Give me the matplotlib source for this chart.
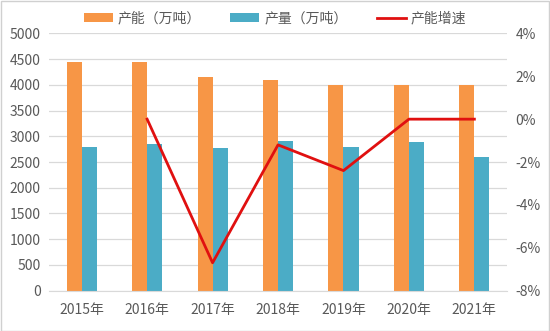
import matplotlib
matplotlib.use("Agg")
import matplotlib.pyplot as plt
import numpy as np
from matplotlib.patches import Rectangle

plt.rcParams['font.family'] = ['Noto Sans CJK SC', 'DejaVu Sans']

years = ['2015年', '2016年', '2017年', '2018年', '2019年', '2020年', '2021年']
capacity = [4450, 4450, 4150, 4100, 4000, 4000, 4000]      # 产能（万吨）
output = [2800, 2850, 2770, 2900, 2790, 2890, 2600]        # 产量（万吨）
growth = [np.nan, 0.0, -6.7, -1.2, -2.4, 0.0, 0.0]          # 产能增速（%）

c_cap = '#F79646'
c_out = '#4BACC6'
c_line = '#E01010'
c_text = '#595959'
c_grid = '#D9D9D9'
fs = 10

fig = plt.figure(figsize=(5.5, 3.31), dpi=100)
fig.patches.append(Rectangle((0.001, 0.001), 0.997, 0.997, transform=fig.transFigure,
                             fill=False, edgecolor='#D0D0D0', linewidth=1))
ax = fig.add_axes([0.089, 0.122, 0.833, 0.777])
ax2 = ax.twinx()

x = np.arange(len(years))
w = 0.23
b1 = ax.bar(x - w / 2, capacity, w, color=c_cap, label='产能（万吨）', zorder=2)
b2 = ax.bar(x + w / 2, output, w, color=c_out, label='产量（万吨）', zorder=2)
ln, = ax2.plot(x, growth, color=c_line, linewidth=2.0, label='产能增速', zorder=3)

ax.set_xlim(-0.5, len(years) - 0.5)
ax.set_ylim(0, 5000)
ax.set_yticks(np.arange(0, 5001, 500))
ax.yaxis.grid(True, color=c_grid, linewidth=0.9, zorder=0)
ax.set_axisbelow(True)
ax.set_xticks(x)
ax.set_xticklabels(years)

ax2.set_ylim(-8, 4)
ax2.set_yticks(np.arange(-8, 4.1, 2))
ax2.set_yticklabels([f'{int(v)}%' for v in np.arange(-8, 4.1, 2)])

for a in (ax, ax2):
    for s in a.spines.values():
        s.set_visible(False)
    a.tick_params(length=0, colors=c_text, labelsize=fs)
ax.tick_params(axis='x', pad=9)
ax.tick_params(axis='y', pad=6)
ax2.tick_params(axis='y', pad=6)
ax.spines['bottom'].set_visible(True)
ax.spines['bottom'].set_color(c_grid)

fig.legend(handles=[b1, b2, ln], loc='center', bbox_to_anchor=(0.50, 0.945), ncol=3,
           frameon=False, fontsize=fs, labelcolor=c_text, handlelength=2.1,
           handleheight=0.6, columnspacing=2.1, handletextpad=0.35)

fig.savefig('out.png', dpi=100)
